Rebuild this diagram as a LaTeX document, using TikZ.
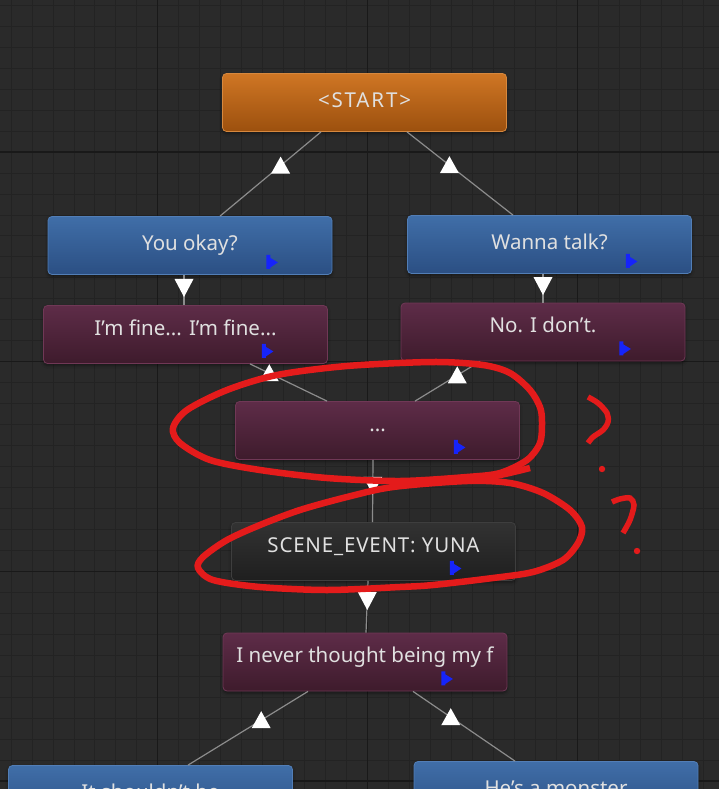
\documentclass[tikz,border=0pt]{standalone}
\usepackage{fontspec}
\setmainfont{Noto Sans}
\usetikzlibrary{
    arrows.meta,
    calc,
    shapes.geometric,
    shadows.blur
}
\definecolor{gridbg}{RGB}{42,42,42}
\definecolor{gridminor}{RGB}{35,35,35}
\definecolor{gridmajor}{RGB}{25,25,25}
\definecolor{starttop}{RGB}{207,118,36}
\definecolor{startbot}{RGB}{156,80,14}
\definecolor{startedge}{RGB}{214,136,62}
\definecolor{bluetop}{RGB}{64,110,168}
\definecolor{bluebot}{RGB}{43,79,131}
\definecolor{blueedge}{RGB}{82,126,182}
\definecolor{winetop}{RGB}{94,44,72}
\definecolor{winebot}{RGB}{62,27,44}
\definecolor{wineedge}{RGB}{112,56,86}
\definecolor{eventtop}{RGB}{50,50,50}
\definecolor{eventbot}{RGB}{31,31,31}
\definecolor{eventedge}{RGB}{62,62,62}
\definecolor{nodetext}{RGB}{224,224,224}
\definecolor{flagblue}{RGB}{22,36,250}
\definecolor{linkgray}{RGB}{140,140,140}
\definecolor{inkred}{RGB}{228,27,27}
\newcommand{\nodefont}{\fontsize{20.5}{24}\selectfont}
\tikzset{
    line cap=round,
    line join=round,
    pop/.style={
        blur shadow={shadow xshift=0pt, shadow yshift=-2pt, shadow blur steps=4,
            shadow blur radius=3pt, shadow opacity=45}
    },
    base node/.style={
        rectangle,
        rounded corners=4pt,
        line width=0.8pt,
        minimum width=284pt,
        minimum height=58pt,
        inner sep=0pt,
        text=nodetext,
        font=\nodefont,
        text height=15pt,
        pop
    },
    entry/.style={base node, draw=startedge, top color=starttop, bottom color=startbot, text depth=6pt},
    prompt/.style={base node, draw=blueedge, top color=bluetop, bottom color=bluebot, text depth=6pt},
    reply/.style={base node, draw=wineedge, top color=winetop, bottom color=winebot, text depth=14pt},
    event/.style={base node, draw=eventedge, top color=eventtop, bottom color=eventbot, text depth=14pt},
    link/.style={
        draw=linkgray,
        line width=1.2pt,
        line cap=butt
    },
    minorline/.style={draw=gridminor, line width=0.8pt},
    majorline/.style={draw=gridmajor, line width=1.3pt},
    scribble/.style={draw=inkred, line width=6.5pt},
    qmark/.style={draw=inkred, line width=5.5pt},
    triup/.pic={\fill[white] (0,-9) -- (9.5,8) -- (-9.5,8) -- cycle;},
    tridown/.pic={\fill[white] (0,10) -- (9.5,-8) -- (-9.5,-8) -- cycle;},
    flag/.pic={\fill[flagblue] (0,0) rectangle (4,14) (4,3) -- (11.5,7.5) -- (4,12.5) -- cycle;}
}

\begin{document}
\begin{tikzpicture}[x=1pt, y=-1pt]
\useasboundingbox (0,0) rectangle (719,789);
\clip (0,0) rectangle (719,789);

% Canvas grid
\fill[gridbg] (0,0) rectangle (719,789);
\foreach \i in {0,...,34}
    \draw[minorline] ({11+20.97*\i},0) -- ++(0,789);
\foreach \i in {0,...,37}
    \draw[minorline] (0,{5.2+20.97*\i}) -- ++(719,0);
\foreach \i in {0,1,2}
    \draw[majorline] ({157.8+209.7*\i},0) -- ++(0,789);
\foreach \i in {0,...,3}
    \draw[majorline] (0,{152+209.7*\i}) -- ++(719,0);

% Dialogue nodes
\node[entry] (start) at (364.5,102.5) {\addfontfeature{LetterSpace=9}<START>};
\node[prompt] (youokay) at (190,245.5) {You okay?};
\node[prompt] (wanna) at (549.5,244.5) {Wanna talk?};
\node[reply] (imfine) at (185.5,334.5) {I’m fine... I’m fine...};
\node[reply] (nodont) at (543,332) {No. I don’t.};
\node[reply] (dots) at (377.5,430.5) {...};
\node[event] (scene) at (373.5,551.5) {\addfontfeature{LetterSpace=4}SCENE\_EVENT: YUNA};
\node[reply] (inever) at (365,662) {I never thought being my f};
\node[prompt] (shouldnt) at (150.5,794.5) {It shouldn’t be};
\node[prompt] (monster) at (556,790.5) {He’s a monster};

% Connectors
\draw[link] ([xshift=-43.5pt]start.south) -- ([xshift=30pt]youokay.north) pic[pos=.4]{triup};
\draw[link] ([xshift=42.5pt]start.south) -- ([xshift=-36.5pt]wanna.north) pic[pos=.4]{triup};
\draw[link] ([xshift=-6pt]youokay.south) -- ([xshift=-1.5pt]imfine.north) pic[pos=.4]{tridown};
\draw[link] ([xshift=-6.5pt]wanna.south) -- (nodont.north) pic[pos=.39]{tridown};
\draw[link] ([xshift=64.5pt]imfine.south) -- ([xshift=-50.5pt]dots.north) pic[pos=.25]{triup};
\draw[link] ([xshift=-63pt]nodont.south) -- ([xshift=37.5pt]dots.north) pic[pos=.35]{triup};
\draw[link] ([xshift=-4.5pt]dots.south) -- ([xshift=-1pt]scene.north) pic[pos=.4]{tridown};
\draw[link] ([xshift=-5.5pt]scene.south) -- ([xshift=1pt]inever.north) pic[pos=.37]{tridown};
\draw[link] ([xshift=-57pt]inever.south) -- ([xshift=37.5pt]shouldnt.north) pic[pos=.39]{triup};
\draw[link] ([xshift=48pt]inever.south) -- ([xshift=-41pt]monster.north) pic[pos=.37]{triup};

% Flags
\foreach \n in {youokay, wanna, imfine, nodont, dots, scene, inever}
    \pic at ([shift={(-66,-20)}]\n.south east) {flag};

% Red marks
\draw[scribble] plot[smooth cycle] coordinates {(173,428) (187,410) (227,390) (277,375)
    (347,366) (433,362) (483,365) (510,373) (530,390) (540,407) (542,422) (540,443)
    (527,460) (500,473) (467,477) (400,481) (327,478) (260,470) (210,460) (180,443)};
\draw[scribble] plot[smooth] coordinates {(530,468) (505,474) (470,481)};
\draw[scribble] plot[smooth cycle] coordinates {(393,487) (467,481) (510,483) (543,493)
    (570,510) (582,527) (578,543) (563,560) (533,572) (493,578) (433,585) (400,587)
    (327,590) (260,587) (213,580) (198,568) (203,557) (227,540) (260,525) (300,510) (347,497)};
\draw[qmark] plot[smooth] coordinates {(588,397) (598,403) (607,413) (608,422) (603,430) (593,437) (588,443)};
\fill[inkred] (602,469) circle (3.2pt);
\draw[qmark] plot[smooth] coordinates {(612,502) (620,499) (630,498) (634,505) (630,520) (623,533)};
\fill[inkred] (637,551) circle (3.2pt);
\end{tikzpicture}
\end{document}
